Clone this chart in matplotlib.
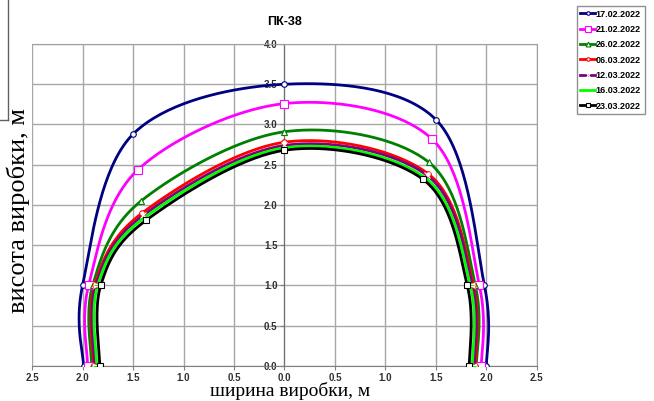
import numpy as np
import matplotlib.pyplot as plt
from matplotlib.lines import Line2D

# профілі виробки ПК-38 по датах замірів
dates = ["17.02.2022", "21.02.2022", "26.02.2022", "06.03.2022",
         "12.03.2022", "16.03.2022", "23.03.2022"]

x_17_02 = [-1.99, -2.00, -1.50, 0.0, 1.50, 1.98, 2.00]
y_17_02 = [0.0, 1.0, 2.88, 3.50, 3.06, 1.0, 0.0]

x_21_02 = [-1.95, -1.94, -1.45, 0.0, 1.46, 1.93, 1.95]
y_21_02 = [0.0, 1.0, 2.44, 3.26, 2.82, 1.0, 0.0]

x_26_02 = [-1.91, -1.90, -1.42, 0.0, 1.43, 1.89, 1.90]
y_26_02 = [0.0, 1.0, 2.05, 2.91, 2.53, 1.0, 0.0]

x_06_03 = [-1.89, -1.88, -1.41, 0.0, 1.42, 1.87, 1.89]
y_06_03 = [0.0, 1.0, 1.90, 2.78, 2.39, 1.0, 0.0]

x_12_03 = [-1.88, -1.87, -1.40, 0.0, 1.41, 1.86, 1.88]
y_12_03 = [0.0, 1.0, 1.87, 2.74, 2.37, 1.0, 0.0]

x_16_03 = [-1.86, -1.85, -1.39, 0.0, 1.39, 1.84, 1.86]
y_16_03 = [0.0, 1.0, 1.84, 2.71, 2.34, 1.0, 0.0]

x_23_03 = [-1.83, -1.82, -1.37, 0.0, 1.37, 1.81, 1.83]
y_23_03 = [0.0, 1.0, 1.81, 2.68, 2.32, 1.0, 0.0]

xs = [x_17_02, x_21_02, x_26_02, x_06_03, x_12_03, x_16_03, x_23_03]
ys = [y_17_02, y_21_02, y_26_02, y_06_03, y_12_03, y_16_03, y_23_03]

colors = ["#000080", "#ff00ff", "#008000", "#ff0000", "#800080", "#00ff00", "#000000"]
markers = ["o", "s", "^", "o", "x", "_", "s"]
msizes = [4, 6, 5, 4, 4, 6, 5]


# згладжування як в Excel (сплайн Катмулла-Рома)
def smooth(px, py, n=40):
    p = np.column_stack([px, py]).astype(float)
    p = np.vstack([p[0], p, p[-1]])
    out = []
    for i in range(1, len(p) - 2):
        p0, p1, p2, p3 = p[i - 1], p[i], p[i + 1], p[i + 2]
        t = np.linspace(0, 1, n)[:, None]
        c = 0.5 * ((2 * p1) + (-p0 + p2) * t + (2 * p0 - 5 * p1 + 4 * p2 - p3) * t ** 2
                   + (-p0 + 3 * p1 - 3 * p2 + p3) * t ** 3)
        out.append(c)
    c = np.vstack(out)
    return c[:, 0], c[:, 1]


fig = plt.figure(figsize=(6.54, 4.01), dpi=100)
ax = fig.add_axes([0.049, 0.0873, 0.772, 0.803])

handles = []
for px, py, col, m, ms, lab in zip(xs, ys, colors, markers, msizes, dates):
    sx, sy = smooth(px, py)
    ax.plot(sx, sy, color=col, lw=2, zorder=3)
    ax.plot(px, py, ls="none", marker=m, ms=ms, mfc="white", mec=col if m != "x" else "white",
            mew=0.8, zorder=4)
    handles.append(Line2D([0], [0], color=col, lw=2, marker=m, ms=ms - 1.5,
                          mfc="white", mec=col if m != "x" else "white", mew=0.8))

ax.set_xlim(-2.5, 2.5)
ax.set_ylim(0, 4.0)
ax.set_xticks(np.arange(-2.5, 2.51, 0.5))
ax.set_xticklabels(["%.1f" % abs(v) for v in np.arange(-2.5, 2.51, 0.5)])
ax.set_yticks(np.arange(0, 4.01, 0.5))
ax.set_yticklabels(["%.1f" % v for v in np.arange(0, 4.01, 0.5)])
ax.grid(True, color="#a8a8a8", lw=1)
ax.set_axisbelow(True)

# вертикальна вісь по центру виробки
ax.spines["left"].set_position(("data", 0))
ax.spines["left"].set_color("#707070")
ax.spines["left"].set_zorder(2)
for s in ["top", "right", "bottom"]:
    ax.spines[s].set_color("#a0a0a0")
ax.spines["bottom"].set_color("#808080")
ax.tick_params(axis="both", length=3, color="#808080", labelsize=7, labelcolor="#303030", pad=2)
for lab in ax.get_xticklabels() + ax.get_yticklabels():
    lab.set_fontweight("bold")
    lab.set_family("Liberation Sans")

ax.set_title("ПК-38", fontsize=9, fontweight="bold", family="Liberation Sans",
             x=0.5, pad=14)
fig.text(0.443, 0.025, "ширина виробки, м", fontsize=14, family="Liberation Serif",
         ha="center", va="center")
fig.text(0.028, 0.476, "висота виробки, м", fontsize=19, family="Liberation Serif",
         ha="center", va="center", rotation=90)

leg = fig.legend(handles, dates, loc="upper left", bbox_to_anchor=(0.882, 0.985),
                 prop={"family": "Liberation Sans", "weight": "bold", "size": 6.5},
                 handlelength=1.6, handletextpad=0.1, labelspacing=0.7,
                 borderpad=0.4, borderaxespad=0, fancybox=False, shadow=False, framealpha=1)
leg.get_frame().set_edgecolor("#909090")
leg.get_frame().set_linewidth(1)

# рамка сусіднього блоку зліва
fig.add_artist(Line2D([8 / 654, 8 / 654], [1, 1 - 120 / 401], color="#606060", lw=1))
fig.add_artist(Line2D([0, 8 / 654], [1 - 120 / 401, 1 - 120 / 401], color="#606060", lw=1))

plt.savefig("out.png", dpi=100)
